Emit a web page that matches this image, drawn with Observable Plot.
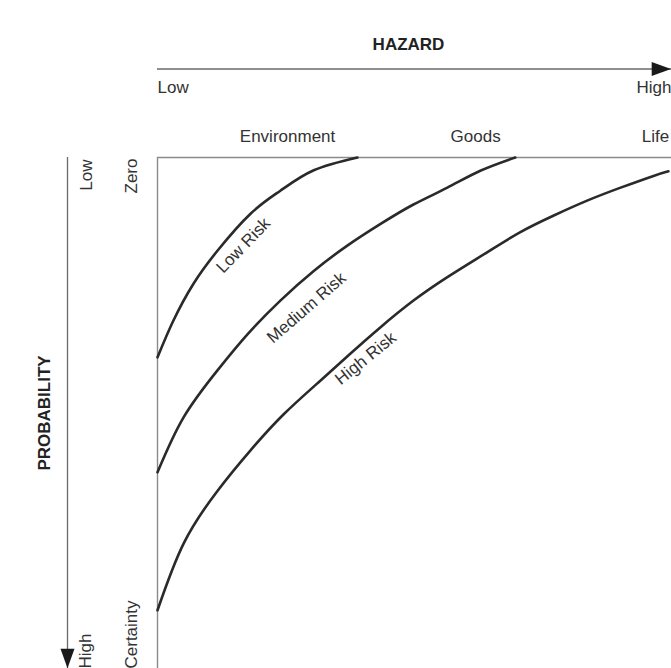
<!DOCTYPE html>
<html>
<head>
<meta charset="utf-8">
<script src="https://cdn.jsdelivr.net/npm/d3@7"></script>
<script src="https://cdn.jsdelivr.net/npm/@observablehq/plot@0.6"></script>
<style>
  html, body { margin: 0; padding: 0; background: #fff; }
  #chart svg { display: block; }
</style>
</head>
<body>
<div id="chart"></div>
<script>
// ---- data (hazard 0–100 left→right, probability 0 = zero at top, 100 = certainty at bottom)
const riskLevels = ["Low Risk", "Medium Risk", "High Risk"];

const lowHazard = [0, 3.1, 7.0, 11.7, 18.1, 23.9, 30.4, 38.9];
const lowProb   = [39.1, 31.9, 24.7, 18.2, 11.0, 6.5, 2.5, 0];

const mediumHazard = [0, 5.1, 11.7, 17.5, 23.9, 30.4, 37.0, 43.4, 49.8, 56.4, 62.8, 69.6];
const mediumProb   = [61.6, 50.8, 41.6, 34.6, 28.0, 22.2, 17.2, 13.0, 9.2, 5.9, 2.6, 0];

const highHazard = [0, 5.1, 11.7, 18.1, 24.5, 31.1, 37.5, 43.4, 49.8, 56.4, 64.2, 70.6, 77.0, 83.7, 90.1, 96.5, 99.4];
const highProb   = [88.6, 75.5, 65.2, 57.3, 50.3, 44.2, 38.4, 33.2, 28.0, 23.4, 18.5, 14.6, 11.4, 8.4, 5.9, 3.6, 2.7];

const labelHazard = [16.7, 29.0, 40.5];
const labelProb   = [17.2, 29.4, 39.3];

const hazardCategories = ["Environment", "Goods", "Life"];
const hazardCategoryAt = [25.3, 61.9, 96.9];

const hazardEnds = ["Low", "High"];
const probabilityEnds = ["Low", "High"];
const probabilityTicks = ["Zero", "Certainty"];
const scaleEnds = [0, 100];

// ---- build tables
const series = [
  [riskLevels[0], lowHazard, lowProb],
  [riskLevels[1], mediumHazard, mediumProb],
  [riskLevels[2], highHazard, highProb]
];
const rows = series.flatMap(([risk, hs, ps]) => hs.map((h, i) => ({risk, hazard: h, probability: ps[i]})));
const labels = riskLevels.map((r, i) => ({risk: r, hazard: labelHazard[i], probability: labelProb[i]}));
const cats = hazardCategories.map((c, i) => ({label: c, hazard: hazardCategoryAt[i]}));
const hEnds = hazardEnds.map((t, i) => ({label: t, hazard: scaleEnds[i]}));
const pEnds = probabilityEnds.map((t, i) => ({label: t, probability: scaleEnds[i]}));
const pTicks = probabilityTicks.map((t, i) => ({label: t, probability: scaleEnds[i]}));

const arrowHead = {
  draw(ctx, size) {
    const r = Math.sqrt(size / Math.PI);
    ctx.moveTo(r * 1.4, 0);
    ctx.lineTo(-r * 1.4, -r);
    ctx.lineTo(-r * 1.4, r);
    ctx.closePath();
  }
};

const ink = "#2a2a2a";
const textInk = "#333";
const fs = 17;

const chart = Plot.plot({
  width: 671,
  height: 668,
  marginLeft: 157,
  marginTop: 157,
  marginRight: 0,
  marginBottom: 0,
  style: {fontFamily: "'Liberation Sans', Arial, Helvetica, sans-serif", fontSize: "17px", background: "#fff", overflow: "visible"},
  x: {domain: [0, 100], axis: null},
  y: {domain: [0, 100], reverse: true, axis: null},
  marks: [
    // frame: left and top edges
    Plot.ruleX([0], {stroke: "#8a8a8a", strokeWidth: 1.4}),
    Plot.ruleY([0], {stroke: "#8a8a8a", strokeWidth: 1.4}),
    // risk curves
    Plot.line(rows, {x: "hazard", y: "probability", z: "risk", curve: "natural", stroke: ink, strokeWidth: 2.6}),
    Plot.text(labels, {x: "hazard", y: "probability", text: "risk", fill: textInk, fontSize: fs,
      rotate: (d, i) => [-46, -41, -39][i]}),
    // hazard header
    Plot.text(cats, {x: "hazard", y: () => 0, text: "label", dy: -21, fill: textInk, fontSize: fs}),
    Plot.ruleY([0], {dy: -88.5, stroke: "#6a6a6a", strokeWidth: 1.3}),
    Plot.dot([{hazard: 100, probability: 0}], {x: "hazard", y: "probability", dx: -10, dy: -88.5, symbol: arrowHead, r: 7, fill: "#1a1a1a", stroke: "none"}),
    Plot.text(hEnds.filter(d => d.hazard === 0), {x: "hazard", y: () => 0, text: "label", dy: -69.5, textAnchor: "start", fill: textInk, fontSize: fs}),
    Plot.text(hEnds.filter(d => d.hazard === 100), {x: "hazard", y: () => 0, text: "label", dy: -69.5, textAnchor: "end", fill: textInk, fontSize: fs}),
    Plot.text(["HAZARD"], {frameAnchor: "top", lineAnchor: "middle", textAnchor: "middle", dx: -6, dy: -112.5, fontWeight: "bold", fill: "#222", fontSize: fs}),
    // probability side
    Plot.ruleX([0], {dx: -90, stroke: "#6a6a6a", strokeWidth: 1.3}),
    Plot.dot([{hazard: 0, probability: 100}], {x: "hazard", y: "probability", dx: -90, dy: -10, rotate: 90, symbol: arrowHead, r: 7, fill: "#1a1a1a", stroke: "none"}),
    Plot.text(pEnds.filter(d => d.probability === 0), {x: () => 0, y: "probability", text: "label", dx: -71, dy: 2, rotate: -90, textAnchor: "end", fill: textInk, fontSize: fs}),
    Plot.text(pEnds.filter(d => d.probability === 100), {x: () => 0, y: "probability", text: "label", dx: -72, rotate: -90, textAnchor: "start", fill: textInk, fontSize: fs}),
    Plot.text(pTicks.filter(d => d.probability === 0), {x: () => 0, y: "probability", text: "label", dx: -26, dy: 1, rotate: -90, textAnchor: "end", fill: textInk, fontSize: fs}),
    Plot.text(pTicks.filter(d => d.probability === 100), {x: () => 0, y: "probability", text: "label", dx: -26, rotate: -90, textAnchor: "start", fill: textInk, fontSize: fs}),
    Plot.text(["PROBABILITY"], {frameAnchor: "left", lineAnchor: "middle", textAnchor: "middle", dx: -113, rotate: -90, fontWeight: "bold", fill: "#222", fontSize: fs})
  ]
});
document.getElementById("chart").append(chart);
</script>
</body>
</html>
